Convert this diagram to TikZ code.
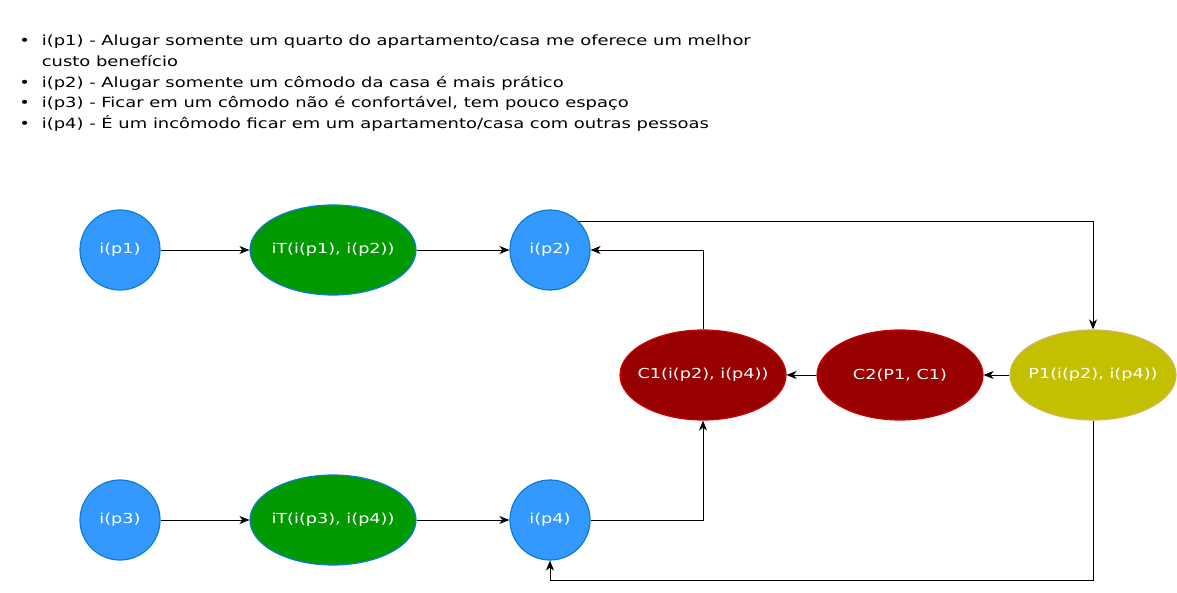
\documentclass[tikz,border=0pt]{standalone}
\usepackage{fontspec}
\setmainfont{DejaVu Sans}[FakeStretch=1.28]
\usepackage{tikz}
\usetikzlibrary{arrows.meta,shapes.geometric}

\definecolor{ipblue}{HTML}{3399FF}
\definecolor{ipedge}{HTML}{0A7DD0}
\definecolor{itgreen}{HTML}{009900}
\definecolor{cred}{HTML}{990000}
\definecolor{credge}{HTML}{CC0000}
\definecolor{polive}{HTML}{C2C000}
\definecolor{poedge}{HTML}{D6B656}

\begin{document}
\begin{tikzpicture}[x=1pt,y=-1pt,semithick]
        \tikzstyle{ipnode}=[
            circle,
            draw=ipedge,
            line width=1.2pt,
            fill=ipblue,
            text=white,
            minimum size=80pt,
            inner sep=0pt,
            font=\fontsize{13.8}{16}\selectfont
        ]
        \tikzstyle{itnode}=[
            ellipse,
            draw=ipedge,
            line width=1.2pt,
            fill=itgreen,
            text=white,
            minimum width=166pt,
            minimum height=90pt,
            inner xsep=-25pt,
            inner ysep=-10pt,
            font=\fontsize{13.8}{16}\selectfont
        ]
        \tikzstyle{cnode}=[itnode, draw=credge, fill=cred]
        \tikzstyle{pnode}=[itnode, draw=poedge, fill=polive]
        \tikzstyle{link}=[-{Stealth[length=10pt,width=8pt,inset=3pt]}, line width=0.9pt, black]

        \useasboundingbox (0,0) rectangle (1177,593);

        \node[anchor=north west, align=left, inner sep=0pt,
              font=\fontsize{14}{20.7}\selectfont] (notes) at (19,31){%
            \begin{tabular}{@{}l@{\hspace{12pt}}l@{}}
            • & i(p1) - Alugar somente um quarto do apartamento/casa me oferece um melhor\\
              & custo benefício\\
            • & i(p2) - Alugar somente um cômodo da casa é mais prático\\
            • & i(p3) - Ficar em um cômodo não é confortável, tem pouco espaço\\
            • & i(p4) - É um incômodo ficar em um apartamento/casa com outras pessoas
            \end{tabular}};

        \node[ipnode] (P1) at (120,250){i(p1)};
        \node[itnode] (T12) at (333,250){iT(i(p1), i(p2))};
        \node[ipnode] (P2) at (550,250){i(p2)};
        \node[ipnode] (P3) at (120,520){i(p3)};
        \node[itnode] (T34) at (333,520){iT(i(p3), i(p4))};
        \node[ipnode] (P4) at (550,520){i(p4)};
        \node[cnode] (C1) at (703,375){C1(i(p2), i(p4))};
        \node[cnode] (C2) at (900,375){C2(P1, C1)};
        \node[pnode] (PR) at (1093,375){P1(i(p2), i(p4))};

        \draw[link] (P1) -- (T12);
        \draw[link] (T12) -- (P2);
        \draw[link] (P3) -- (T34);
        \draw[link] (T34) -- (P4);
        \draw[link] (C2) -- (C1);
        \draw[link] (PR) -- (C2);
        \draw[link] (P2.45) -- (P2.45 -| PR.north) -- (PR.north);
        \draw[link] (C1.north) |- (P2.east);
        \draw[link] (P4.east) -| (C1.south);
        \draw[link] (PR.south) -- ++(0,160) -| (P4.south);

    \end{tikzpicture}
\end{document}
